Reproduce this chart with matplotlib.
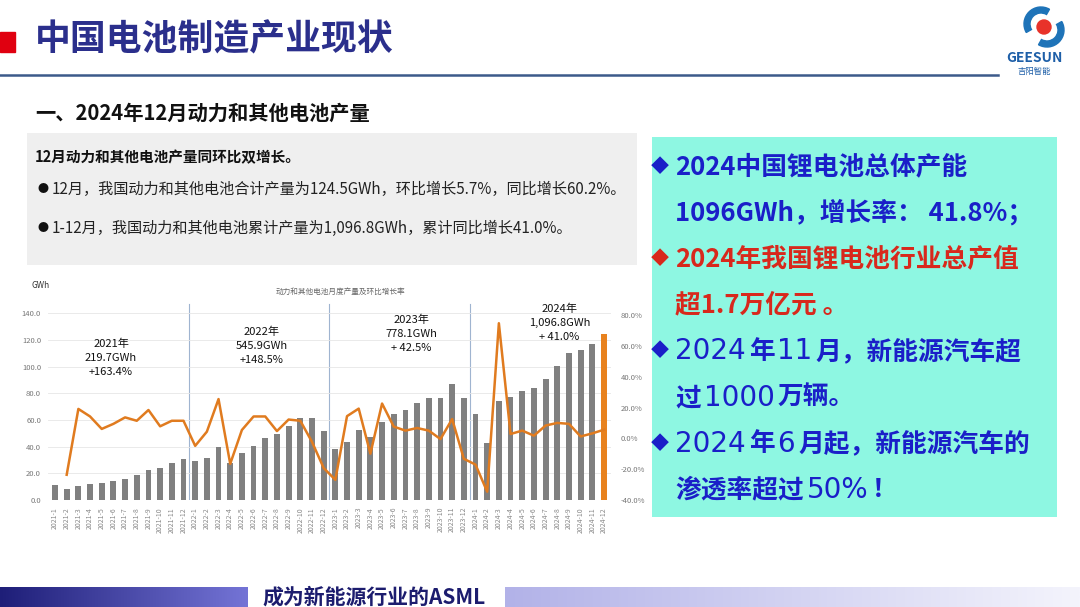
import matplotlib
matplotlib.use("Agg")
import matplotlib.pyplot as plt
import numpy as np
from matplotlib.patches import Rectangle, Circle, Wedge

plt.rcParams['font.family'] = ['Noto Sans CJK SC', 'DejaVu Sans']

# monthly output of power and other batteries, GWh
out_2021 = [11.3, 8.5, 10.3, 11.8, 12.8, 14.6, 16.1, 19.1, 22.4, 24.1, 27.4, 30.4]
out_2022 = [29.4, 31.4, 39.7, 27.6, 35.2, 40.5, 46.2, 49.2, 55.5, 61.8, 61.3, 51.5]
out_2023 = [38.2, 43.7, 52.8, 47.2, 58.8, 64.3, 67.3, 72.4, 76.6, 76.6, 86.9, 76.6]
out_2024 = [64.6, 42.7, 74.6, 77.4, 81.9, 83.7, 91.0, 100.8, 110.6, 112.6, 117.3, 124.5]

# month-on-month growth, %
mom_2021 = [np.nan, -23.6, 19.2, 14.3, 6.2, 9.5, 13.7, 11.5, 18.5, 7.9, 11.5, 11.5]
mom_2022 = [-4.8, 4.4, 25.6, -16.5, 5.5, 14.3, 14.3, 4.8, 12.3, 11.5, -2.2, -19.2]
mom_2023 = [-26.9, 14.5, 19.4, -9.9, 22.7, 7.7, 5.1, 6.8, 5.1, -0.4, 12.6, -13.2]
mom_2024 = [-17.0, -34.6, 74.9, 2.9, 5.1, 1.8, 8.4, 10.1, 9.5, 1.3, 3.3, 5.7]

years = [2021, 2022, 2023, 2024]
year_notes = ["2021年\n219.7GWh\n+163.4%", "2022年\n545.9GWh\n+148.5%",
              "2023年\n778.1GWh\n+ 42.5%", "2024年\n1,096.8GWh\n+ 41.0%"]

months = [f"{y}-{m}" for y in years for m in range(1, 13)]
output = out_2021 + out_2022 + out_2023 + out_2024
mom = mom_2021 + mom_2022 + mom_2023 + mom_2024

W, H = 1080, 607
fig = plt.figure(figsize=(W / 100, H / 100), dpi=100)
fig.patch.set_facecolor('white')
renderer = fig.canvas.get_renderer()

# slide background in pixel coordinates
bg = fig.add_axes([0, 0, 1, 1])
bg.set_xlim(0, W)
bg.set_ylim(H, 0)
bg.axis('off')

# header
bg.add_patch(Rectangle((0, 32), 15, 20, color='#E00010'))
bg.text(35, 40, "中国电池制造产业现状", fontsize=25.8, fontweight='bold',
        color='#2B2F8C', va='center', ha='left')
bg.plot([0, 998], [75, 75], color='#3C5A8A', lw=1.8)

# logo
bg.add_patch(Wedge((1041, 24), 17, 150, 300, width=6, color='#1E73B8'))
bg.add_patch(Wedge((1047, 30), 17, 330, 480, width=6, color='#1E73B8'))
bg.add_patch(Circle((1044, 27), 7, color='#E8322A'))
bg.text(1034, 58, "GEESUN", fontsize=10, fontweight='bold', color='#1E5FA8',
        ha='center', va='center')
bg.text(1034, 71, "吉阳智能", fontsize=6, color='#1E5FA8', ha='center', va='center')

# subtitle
bg.text(35, 113, "一、2024年12月动力和其他电池产量", fontsize=14.6, fontweight='bold',
        color='#111111', va='center')

# grey summary box
bg.add_patch(Rectangle((27, 133), 610, 132, color='#EFEFEF', lw=0))
bg.text(35, 157, "12月动力和其他电池产量同环比双增长。", fontsize=10.5, fontweight='bold',
        color='#111111', va='center')
bg.text(37, 189, "●", fontsize=8, color='#111111', va='center')
bg.text(52, 189, "12月，我国动力和其他电池合计产量为124.5GWh，环比增长5.7%，同比增长60.2%。",
        fontsize=10.9, color='#222222', va='center')
bg.text(37, 228, "●", fontsize=8, color='#111111', va='center')
bg.text(52, 228, "1-12月，我国动力和其他电池累计产量为1,096.8GWh，累计同比增长41.0%。",
        fontsize=10.9, color='#222222', va='center')

# cyan highlight box
blue = '#1A1FC8'
red = '#D8281C'
bg.add_patch(Rectangle((652, 137), 405, 380, color='#8EF7E2', lw=0))
lines = [
    ("◆", [("2024中国锂电池总体产能", 'c')], blue),
    (None, [("1096GWh，增长率： 41.8%；", 'c')], blue),
    ("◆", [("2024年我国锂电池行业总产值", 'c')], red),
    (None, [("超1.7万亿元 。", 'c')], red),
    ("◆", [("2024", 'd'), ("年", 'c'), ("11", 'd'), ("月，新能源汽车超", 'c')], blue),
    (None, [("过", 'c'), ("1000", 'd'), ("万辆。", 'c')], blue),
    ("◆", [("2024", 'd'), ("年", 'c'), ("6", 'd'), ("月起，新能源汽车的", 'c')], blue),
    (None, [("渗透率超过", 'c'), ("50%", 'd'), ("！", 'c')], blue),
]
for i, (mark, runs, col) in enumerate(lines):
    y = 167 + i * 46.1
    if mark:
        bg.text(651, y, mark, fontsize=13, color=col, va='center', ha='left')
    xx = 675
    for txt, kind in runs:
        if kind == 'd':
            t = bg.text(xx, y, txt, fontsize=20, family='DejaVu Sans', color=col,
                        va='center')
        else:
            t = bg.text(xx, y, txt, fontsize=18.5, fontweight='bold', color=col,
                        va='center')
        xx += t.get_window_extent(renderer).width + 3

# footer band
grad = np.linspace(0, 1, 256).reshape(1, -1)
bg.imshow(grad, extent=(0, 248, 607, 587), aspect='auto',
          cmap=matplotlib.colors.LinearSegmentedColormap.from_list('l', ['#1E1E78', '#7474D6']))
bg.imshow(grad, extent=(505, 1080, 607, 587), aspect='auto',
          cmap=matplotlib.colors.LinearSegmentedColormap.from_list('r', ['#B2B2E8', '#F4F4FC']))
bg.text(262, 597, "成为新能源行业的ASML", fontsize=15, fontweight='bold', style='italic',
        color='#1C1C6E', va='center')
bg.set_xlim(0, W)
bg.set_ylim(H, 0)

# chart texts outside the axes
bg.text(32, 286, "GWh", fontsize=6, color='#333333', va='center')
bg.text(340, 292, "动力和其他电池月度产量及环比增长率", fontsize=5.5, color='#666666',
        ha='center', va='center')

# chart
ax = fig.add_axes([48 / W, (H - 500) / H, (611 - 48) / W, 200 / H])
ax.set_facecolor('none')
x = np.arange(len(months))
colors = ['#808080'] * (len(months) - 1) + ['#E8821E']
ax.bar(x, output, width=0.5, color=colors, zorder=2)
ax.set_ylim(0, 150)
ax.set_xlim(-0.6, len(months) - 0.4)
ax.set_yticks(np.arange(0, 141, 20))
ax.set_yticklabels([f"{v:.1f}" for v in np.arange(0, 141, 20)], fontsize=5.5, color='#777777')
ax.grid(axis='y', color='#E6E6E6', lw=0.6, zorder=0)
ax.set_xticks(x)
ax.set_xticklabels(months, rotation=90, fontsize=5, color='#888888')
ax.tick_params(length=0, pad=5)
for s in ax.spines.values():
    s.set_visible(False)
for b in [11.5, 23.5, 35.5]:
    ax.plot([b, b], [0, 147], color='#9FB4D0', lw=0.8, zorder=1)
centers = [(4.8, 107), (17.7, 116), (30.5, 124.5), (43.2, 133)]
for (cx, cy), note in zip(centers, year_notes):
    ax.text(cx, cy, note, fontsize=8, ha='center', va='center', color='#111111',
            linespacing=1.5, zorder=4)

ax2 = ax.twinx()
ax2.plot(x, mom, color='#E07B1F', lw=1.8, zorder=3)
ax2.set_ylim(-40, 90)
ax2.set_yticks(np.arange(-40, 81, 20))
ax2.set_yticklabels([f"{v:.1f}%" for v in np.arange(-40, 81, 20)], fontsize=5.5, color='#777777')
ax2.tick_params(length=0, pad=7)
for s in ax2.spines.values():
    s.set_visible(False)

fig.savefig("out.png", dpi=100)
